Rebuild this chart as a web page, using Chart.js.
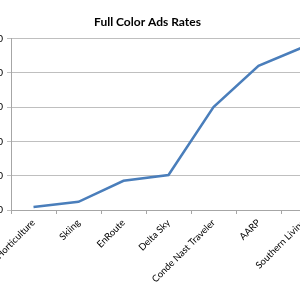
<!DOCTYPE html>
<html>
<head>
<meta charset="utf-8">
<script src="https://cdn.jsdelivr.net/npm/chart.js@4/dist/chart.umd.min.js"></script>
<style>
  html, body { margin: 0; padding: 0; background: #fff; overflow: hidden; }
  #wrap { position: absolute; left: -31px; top: 0; width: 357px; height: 300px; }
</style>
</head>
<body>
<div id="wrap"><canvas id="myChart"></canvas></div>
<script>
const magazines = ['Horticulture', 'Skiing', 'EnRoute', 'Delta Sky', 'Conde Nast Traveler', 'AARP', 'Southern Living'];
const adRates = [9000, 24000, 85000, 102000, 300000, 420000, 475000];
const yTicks = [0, 100000, 200000, 300000, 400000, 500000];

const ctx = document.getElementById('myChart');

new Chart(ctx, {
  type: 'line',
  data: {
    labels: magazines,
    datasets: [{
      label: 'Full Color Ads Rates',
      data: adRates,
      borderColor: '#4a7ebb',
      borderWidth: 2.5,
      pointRadius: 0,
      tension: 0
    }]
  },
  options: {
    responsive: true,
    maintainAspectRatio: false,
    animation: false,
    plugins: {
      legend: { display: false },
      tooltip: { enabled: false },
      title: {
        display: true,
        text: 'Full Color Ads Rates',
        color: '#000',
        font: { family: 'Lato', size: 12, weight: 'bold' },
        padding: { top: 15, bottom: 9 }
      }
    },
    scales: {
      x: {
        offset: true,
        grid: { offset: true, drawOnChartArea: false, tickLength: 4, color: '#a6a6a6' },
        border: { color: '#a6a6a6' },
        ticks: {
          autoSkip: false,
          maxRotation: 45,
          minRotation: 45,
          color: '#000',
          font: { family: 'Lato', size: 9.5 }
        },
        afterFit: (s) => { s.height = 90; }
      },
      y: {
        min: yTicks[0],
        max: yTicks[yTicks.length - 1],
        afterBuildTicks: (s) => { s.ticks = yTicks.map(v => ({ value: v })); },
        grid: { color: '#bfbfbf', tickLength: 4 },
        border: { color: '#a6a6a6' },
        ticks: {
          padding: 4,
          color: '#000',
          font: { family: 'Lato', size: 10 },
          callback: (v) => v
        },
        afterFit: (s) => { s.width = 42; }
      }
    }
  }
});
</script>
</body>
</html>
